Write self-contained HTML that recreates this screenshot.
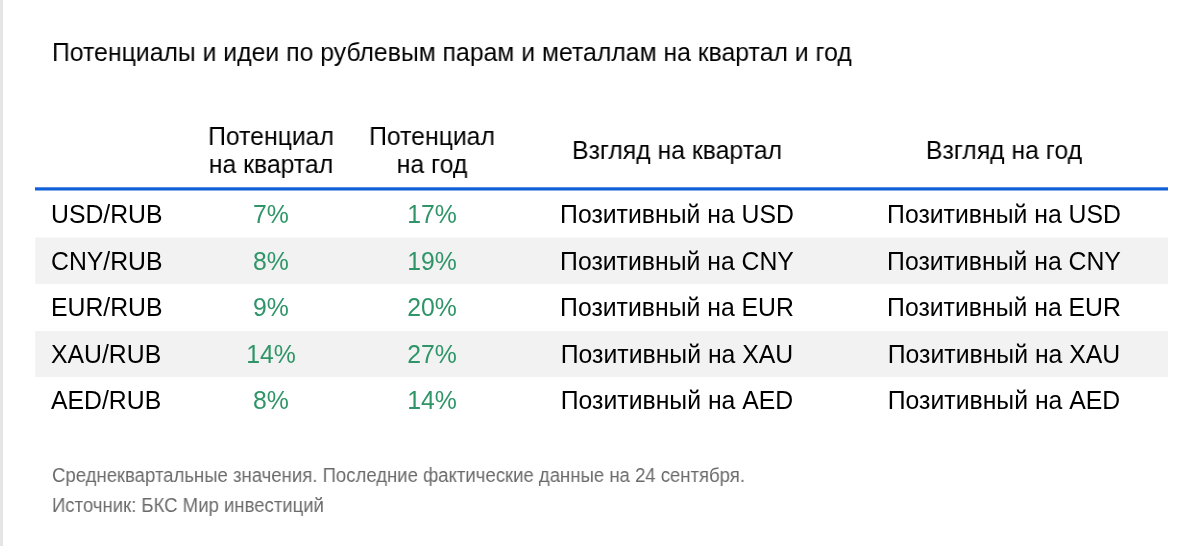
<!DOCTYPE html>
<html><head><meta charset="utf-8">
<style>
html,body{margin:0;padding:0;}
body{width:1200px;height:546px;background:#fff;position:relative;overflow:hidden;font-family:"Liberation Sans",sans-serif;color:#000;}
svg.bg{position:absolute;left:0;top:0;}
.title,.hdr,.row,.note{will-change:transform;}
.l{transform:scaleX(0.96061);transform-origin:0 0;}
.c{transform:scaleX(0.96061);transform-origin:50% 0;}
.title{position:absolute;left:51.6px;top:37px;font-size:25.817px;line-height:30px;white-space:nowrap;}
.hdr{position:absolute;font-size:25.817px;line-height:28px;text-align:center;white-space:nowrap;}
.row{position:absolute;left:35px;width:1133px;height:47px;font-size:25.817px;line-height:47px;}
.row span{position:absolute;top:0;white-space:nowrap;text-align:center;}
.c0{left:16.4px;text-align:left !important;}
.c1{left:135.5px;width:200px;color:#2f9568;}
.c2{left:297px;width:200px;color:#2f9568;}
.c3{left:442px;width:400px;}
.c4{left:769px;width:400px;}
.note{position:absolute;left:52px;font-size:19.311px;line-height:20px;color:#6a6a6a;white-space:nowrap;}
</style></head><body>
<svg class="bg" width="1200" height="546" viewBox="0 0 1200 546">
<rect x="0" y="0" width="3" height="546" fill="#e5e5e5"/>
<rect x="35.2" y="237.5" width="1132.8" height="46.4" fill="#f2f2f2"/>
<rect x="35.2" y="331" width="1132.8" height="46" fill="#f2f2f2"/>
<rect x="35" y="187.3" width="1133" height="3.2" fill="#0f5fd8"/>
</svg>
<div class="title l">Потенциалы и идеи по рублевым парам и металлам на квартал и год</div>
<div class="hdr c" style="left:170.5px;width:200px;top:122px;">Потенциал<br>на квартал</div>
<div class="hdr c" style="left:332px;width:200px;top:122px;">Потенциал<br>на год</div>
<div class="hdr c" style="left:477px;width:400px;top:136px;">Взгляд на квартал</div>
<div class="hdr c" style="left:804px;width:400px;top:136px;">Взгляд на год</div>
<div class="row" style="top:191px;"><span class="c0 l">USD/RUB</span><span class="c1 c">7%</span><span class="c2 c">17%</span><span class="c3 c">Позитивный на USD</span><span class="c4 c">Позитивный на USD</span></div>
<div class="row" style="top:238px;"><span class="c0 l">CNY/RUB</span><span class="c1 c">8%</span><span class="c2 c">19%</span><span class="c3 c">Позитивный на CNY</span><span class="c4 c">Позитивный на CNY</span></div>
<div class="row" style="top:284px;"><span class="c0 l">EUR/RUB</span><span class="c1 c">9%</span><span class="c2 c">20%</span><span class="c3 c">Позитивный на EUR</span><span class="c4 c">Позитивный на EUR</span></div>
<div class="row" style="top:331px;"><span class="c0 l">XAU/RUB</span><span class="c1 c">14%</span><span class="c2 c">27%</span><span class="c3 c">Позитивный на XAU</span><span class="c4 c">Позитивный на XAU</span></div>
<div class="row" style="top:377px;"><span class="c0 l">AED/RUB</span><span class="c1 c">8%</span><span class="c2 c">14%</span><span class="c3 c">Позитивный на AED</span><span class="c4 c">Позитивный на AED</span></div>
<div class="note l" style="top:466px;">Среднеквартальные значения. Последние фактические данные на 24 сентября.</div>
<div class="note l" style="top:496px;">Источник: БКС Мир инвестиций</div>
</body></html>
